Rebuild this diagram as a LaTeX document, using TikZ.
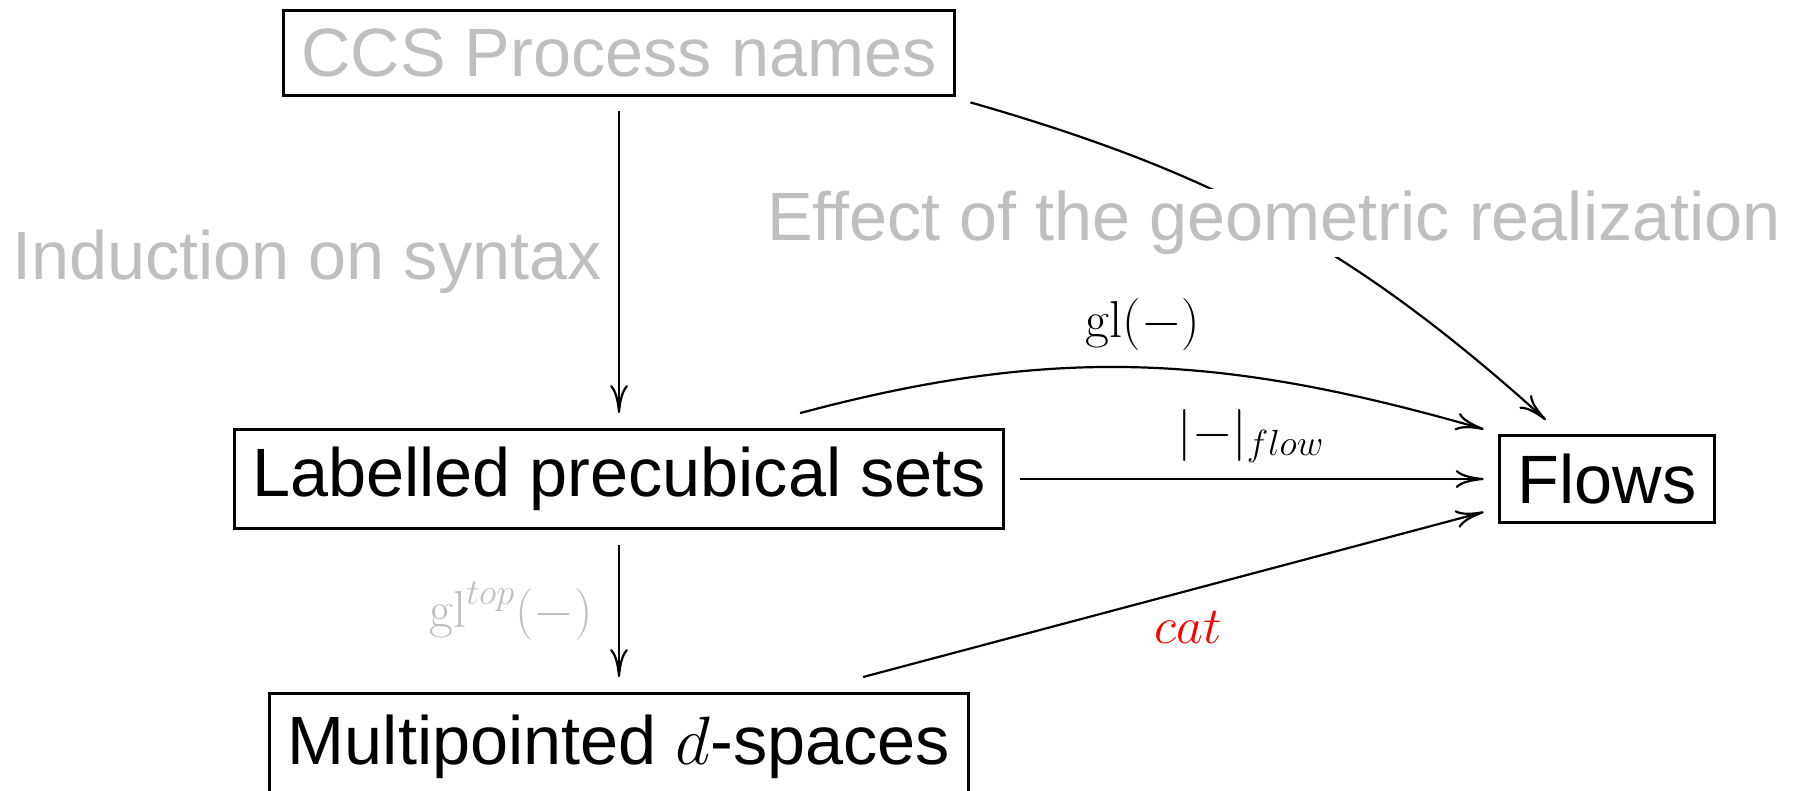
\RequirePackage{fix-cm}
\documentclass[tikz,border=0pt]{standalone}
\usepackage[no-math]{fontspec}
\setmainfont{Liberation Sans}
\usetikzlibrary{arrows.meta}
\definecolor{lightgr}{rgb}{0.75,0.75,0.75}
\begin{document}
\begin{tikzpicture}[x=0.5pt,y=0.5pt,
  box/.style={draw, line width=1.5pt, inner sep=9pt, outer sep=8pt, font=\fontsize{34.2}{40}\selectfont},
  big/.style={font=\fontsize{34.2}{40}\selectfont, inner sep=1pt, anchor=base},
  lbl/.style={font=\fontsize{26}{30}\selectfont, inner sep=0pt, anchor=base},
  arr/.style={line width=1.1pt, -{To[length=14pt,width=9pt]}}
]
\path[use as bounding box] (0,0) rectangle (1799,-791);
\node[box, text=lightgr] (ccs) at (619,-53) {CCS Process names};
\node[box] (lab) at (619,-479) {Labelled precubical sets};
\node[box] (flows) at (1607,-479) {Flows};
\node[box, minimum height=54pt] (multi) at (619,-747) {Multipointed $d$-spaces};

\draw[arr] (ccs.south) -- (lab.north);
\draw[arr] (lab.south) -- (multi.north);
\draw[arr] (lab.east) -- (flows.west);
\draw[arr] (lab.20) to[out=15,in=164] (flows.158);
\draw[arr] (multi.16) -- (flows.195);
\draw[arr] (ccs.-8) to[out=-16,in=138] (flows.136);

\node[lbl] (glab) at (1143,-337) {$\mathrm{gl}(-)$};
\node[lbl] (flowlab) at (1251,-448) {$|{-}|_{flow}$};
\node[lbl, text=lightgr] (gltop) at (511,-627) {$\mathrm{gl}^{top}(-)$};
\node[lbl, text=red] (catlab) at (1188,-643) {$cat$};
\node[big, text=lightgr] (ind) at (307,-279) {Induction on syntax};
\node[big, text=lightgr, fill=white] (eff) at (1274,-241) {Effect of the geometric realization};
\end{tikzpicture}
\end{document}
